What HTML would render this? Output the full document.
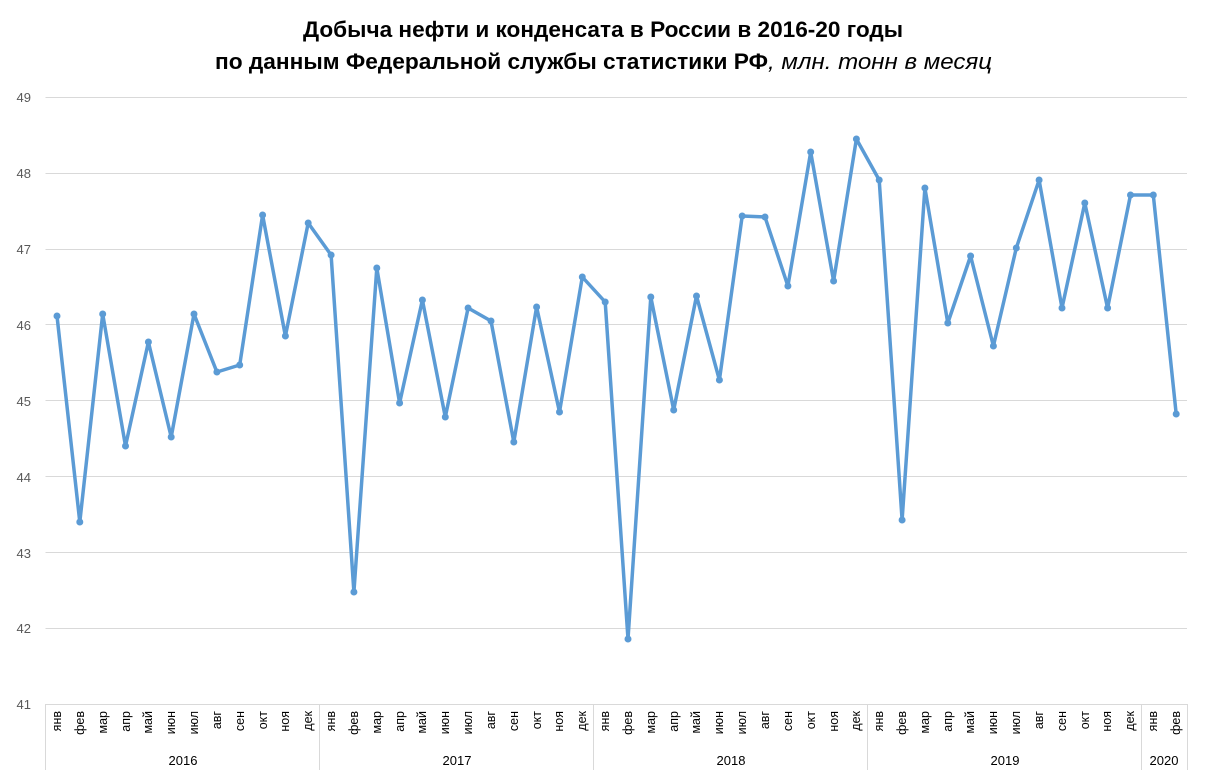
<!DOCTYPE html>
<html><head><meta charset="utf-8"><style>
body{margin:0;background:#fff;}
svg{display:block;font-family:"Liberation Sans",sans-serif;}
</style></head><body>
<svg width="1205" height="781" viewBox="0 0 1205 781" xmlns="http://www.w3.org/2000/svg">
<text x="303" y="37" textLength="600" lengthAdjust="spacingAndGlyphs" font-size="22" font-weight="bold" fill="#000">Добыча нефти и конденсата в России в 2016-20 годы</text>
<text x="215" y="69" font-size="22" fill="#000"><tspan font-weight="bold" textLength="553" lengthAdjust="spacingAndGlyphs">по данным Федеральной службы статистики РФ</tspan><tspan font-style="italic" textLength="224" lengthAdjust="spacingAndGlyphs">, млн. тонн в месяц</tspan></text>
<g stroke="#d9d9d9" stroke-width="1">
<line x1="45.5" x2="1187" y1="97.5" y2="97.5"/><line x1="45.5" x2="1187" y1="173.5" y2="173.5"/><line x1="45.5" x2="1187" y1="249.5" y2="249.5"/><line x1="45.5" x2="1187" y1="324.5" y2="324.5"/><line x1="45.5" x2="1187" y1="400.5" y2="400.5"/><line x1="45.5" x2="1187" y1="476.5" y2="476.5"/><line x1="45.5" x2="1187" y1="552.5" y2="552.5"/><line x1="45.5" x2="1187" y1="628.5" y2="628.5"/><line x1="45.5" x2="1187" y1="704.5" y2="704.5"/>
<line x1="45.5" x2="45.5" y1="704" y2="770"/><line x1="319.5" x2="319.5" y1="704" y2="770"/><line x1="593.5" x2="593.5" y1="704" y2="770"/><line x1="867.5" x2="867.5" y1="704" y2="770"/><line x1="1141.5" x2="1141.5" y1="704" y2="770"/><line x1="1187.5" x2="1187.5" y1="704" y2="770"/>
</g>
<g font-size="13" fill="#595959" text-anchor="end">
<text x="31" y="102">49</text><text x="31" y="178">48</text><text x="31" y="254">47</text><text x="31" y="330">46</text><text x="31" y="406">45</text><text x="31" y="482">44</text><text x="31" y="558">43</text><text x="31" y="633">42</text><text x="31" y="709">41</text>
</g>
<g font-size="12.5" fill="#000" text-anchor="end">
<text transform="translate(61,711) rotate(-90)">янв</text><text transform="translate(84,711) rotate(-90)">фев</text><text transform="translate(107,711) rotate(-90)">мар</text><text transform="translate(130,711) rotate(-90)">апр</text><text transform="translate(152,711) rotate(-90)">май</text><text transform="translate(175,711) rotate(-90)">июн</text><text transform="translate(198,711) rotate(-90)">июл</text><text transform="translate(221,711) rotate(-90)">авг</text><text transform="translate(244,711) rotate(-90)">сен</text><text transform="translate(267,711) rotate(-90)">окт</text><text transform="translate(289,711) rotate(-90)">ноя</text><text transform="translate(312,711) rotate(-90)">дек</text>
<text transform="translate(335,711) rotate(-90)">янв</text><text transform="translate(358,711) rotate(-90)">фев</text><text transform="translate(381,711) rotate(-90)">мар</text><text transform="translate(404,711) rotate(-90)">апр</text><text transform="translate(426,711) rotate(-90)">май</text><text transform="translate(449,711) rotate(-90)">июн</text><text transform="translate(472,711) rotate(-90)">июл</text><text transform="translate(495,711) rotate(-90)">авг</text><text transform="translate(518,711) rotate(-90)">сен</text><text transform="translate(541,711) rotate(-90)">окт</text><text transform="translate(563,711) rotate(-90)">ноя</text><text transform="translate(586,711) rotate(-90)">дек</text>
<text transform="translate(609,711) rotate(-90)">янв</text><text transform="translate(632,711) rotate(-90)">фев</text><text transform="translate(655,711) rotate(-90)">мар</text><text transform="translate(678,711) rotate(-90)">апр</text><text transform="translate(700,711) rotate(-90)">май</text><text transform="translate(723,711) rotate(-90)">июн</text><text transform="translate(746,711) rotate(-90)">июл</text><text transform="translate(769,711) rotate(-90)">авг</text><text transform="translate(792,711) rotate(-90)">сен</text><text transform="translate(815,711) rotate(-90)">окт</text><text transform="translate(838,711) rotate(-90)">ноя</text><text transform="translate(860,711) rotate(-90)">дек</text>
<text transform="translate(883,711) rotate(-90)">янв</text><text transform="translate(906,711) rotate(-90)">фев</text><text transform="translate(929,711) rotate(-90)">мар</text><text transform="translate(952,711) rotate(-90)">апр</text><text transform="translate(974,711) rotate(-90)">май</text><text transform="translate(997,711) rotate(-90)">июн</text><text transform="translate(1020,711) rotate(-90)">июл</text><text transform="translate(1043,711) rotate(-90)">авг</text><text transform="translate(1066,711) rotate(-90)">сен</text><text transform="translate(1089,711) rotate(-90)">окт</text><text transform="translate(1111,711) rotate(-90)">ноя</text><text transform="translate(1134,711) rotate(-90)">дек</text>
<text transform="translate(1157,711) rotate(-90)">янв</text><text transform="translate(1180,711) rotate(-90)">фев</text>
</g>
<g font-size="13" fill="#000" text-anchor="middle">
<text x="183" y="765">2016</text><text x="457" y="765">2017</text><text x="731" y="765">2018</text><text x="1005" y="765">2019</text><text x="1164" y="765">2020</text>
</g>
<polyline fill="none" stroke="#5b9bd5" stroke-width="3.5" stroke-linejoin="round" points="57,316 79.8,522 102.7,314 125.5,446 148.4,342 171.2,437 194,314 216.9,372 239.7,365 262.6,215 285.4,336 308.2,223 331.1,255 353.9,592 376.8,268 399.6,403 422.4,300 445.3,417 468.1,308 491,321 513.8,442 536.6,307 559.5,412 582.3,277 605.2,302 628,639 650.8,297 673.7,410 696.5,296 719.4,380 742.2,216 765,217 787.9,286 810.7,152 833.6,281 856.4,139 879.2,180 902.1,520 924.9,188 947.8,323 970.6,256 993.4,346 1016.3,248 1039.1,180 1062,308 1084.8,203 1107.6,308 1130.5,195 1153.3,195 1176.2,414"/>
<g fill="#5b9bd5">
<circle cx="57" cy="316" r="3.5"/><circle cx="79.8" cy="522" r="3.5"/><circle cx="102.7" cy="314" r="3.5"/><circle cx="125.5" cy="446" r="3.5"/><circle cx="148.4" cy="342" r="3.5"/><circle cx="171.2" cy="437" r="3.5"/><circle cx="194" cy="314" r="3.5"/><circle cx="216.9" cy="372" r="3.5"/><circle cx="239.7" cy="365" r="3.5"/><circle cx="262.6" cy="215" r="3.5"/><circle cx="285.4" cy="336" r="3.5"/><circle cx="308.2" cy="223" r="3.5"/>
<circle cx="331.1" cy="255" r="3.5"/><circle cx="353.9" cy="592" r="3.5"/><circle cx="376.8" cy="268" r="3.5"/><circle cx="399.6" cy="403" r="3.5"/><circle cx="422.4" cy="300" r="3.5"/><circle cx="445.3" cy="417" r="3.5"/><circle cx="468.1" cy="308" r="3.5"/><circle cx="491" cy="321" r="3.5"/><circle cx="513.8" cy="442" r="3.5"/><circle cx="536.6" cy="307" r="3.5"/><circle cx="559.5" cy="412" r="3.5"/><circle cx="582.3" cy="277" r="3.5"/>
<circle cx="605.2" cy="302" r="3.5"/><circle cx="628" cy="639" r="3.5"/><circle cx="650.8" cy="297" r="3.5"/><circle cx="673.7" cy="410" r="3.5"/><circle cx="696.5" cy="296" r="3.5"/><circle cx="719.4" cy="380" r="3.5"/><circle cx="742.2" cy="216" r="3.5"/><circle cx="765" cy="217" r="3.5"/><circle cx="787.9" cy="286" r="3.5"/><circle cx="810.7" cy="152" r="3.5"/><circle cx="833.6" cy="281" r="3.5"/><circle cx="856.4" cy="139" r="3.5"/>
<circle cx="879.2" cy="180" r="3.5"/><circle cx="902.1" cy="520" r="3.5"/><circle cx="924.9" cy="188" r="3.5"/><circle cx="947.8" cy="323" r="3.5"/><circle cx="970.6" cy="256" r="3.5"/><circle cx="993.4" cy="346" r="3.5"/><circle cx="1016.3" cy="248" r="3.5"/><circle cx="1039.1" cy="180" r="3.5"/><circle cx="1062" cy="308" r="3.5"/><circle cx="1084.8" cy="203" r="3.5"/><circle cx="1107.6" cy="308" r="3.5"/><circle cx="1130.5" cy="195" r="3.5"/>
<circle cx="1153.3" cy="195" r="3.5"/><circle cx="1176.2" cy="414" r="3.5"/>
</g>
</svg>
</body></html>
